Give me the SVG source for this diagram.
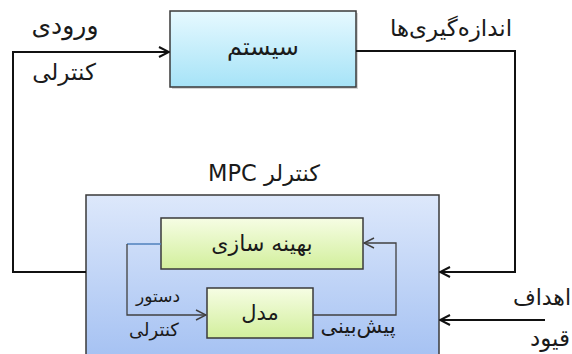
<svg xmlns="http://www.w3.org/2000/svg" width="572" height="354" viewBox="0 0 572 354">
<style>
text{font-family:"DejaVu Sans","Noto Sans",sans-serif;fill:#1a1a1a;text-anchor:middle;direction:rtl}
.box{stroke:#3a3a3a;stroke-width:1.5}
.wire{fill:none;stroke:#111;stroke-width:2}
.iw{fill:none;stroke:#404040;stroke-width:1.3}
</style>
<defs>
<linearGradient id="gSys" x1="0" y1="0" x2="0" y2="1"><stop offset="0" stop-color="#e6f9ff"/><stop offset="1" stop-color="#a6e3f7"/></linearGradient>
<linearGradient id="gMpc" x1="0" y1="0" x2="0" y2="1"><stop offset="0" stop-color="#dde8fb"/><stop offset="1" stop-color="#a3c0f2"/></linearGradient>
<linearGradient id="gIn" x1="0" y1="0" x2="0" y2="1"><stop offset="0" stop-color="#f6fde4"/><stop offset="1" stop-color="#d2ef9c"/></linearGradient>
<marker id="ah" viewBox="0 0 12 12" refX="11" refY="6" markerWidth="12" markerHeight="12" markerUnits="userSpaceOnUse" orient="auto"><path d="M1,1 L11,6 L1,11" fill="none" stroke="#111" stroke-width="2"/></marker>
<marker id="ahs" viewBox="0 0 12 12" refX="11" refY="6" markerWidth="12" markerHeight="12" markerUnits="userSpaceOnUse" orient="auto"><path d="M1,1 L11,6 L1,11" fill="none" stroke="#404040" stroke-width="1.4"/></marker>
</defs>
<g id="mpc">
<rect x="86" y="195" width="353" height="170" fill="url(#gMpc)" class="box"/>
<text x="264" y="181" style="font-size:22.5px">کنترلر MPC</text>
</g>
<g id="system">
<rect x="172" y="13" width="186" height="76" fill="#888" opacity="0.35"/>
<rect x="170" y="11" width="186" height="76" fill="url(#gSys)" class="box"/>
<text x="263" y="55" style="font-size:24px">سیستم</text>
</g>
<g id="optimizer">
<rect x="161" y="218" width="202" height="51" fill="url(#gIn)" class="box"/>
<text x="262" y="251" style="font-size:22px">بهینه سازی</text>
</g>
<g id="model">
<rect x="207" y="288" width="106" height="50" fill="url(#gIn)" class="box"/>
<text x="260" y="320" style="font-size:21px">مدل</text>
</g>
<g id="connectors">
<path class="wire" d="M86,272 H13 V52 H169" marker-end="url(#ah)"/>
<path class="wire" d="M356,51 H515 V272 H440" marker-end="url(#ah)"/>
<path class="wire" d="M545,320 H440" marker-end="url(#ah)"/>
<path d="M161,244 H127" fill="none" stroke="#4f81bd" stroke-width="1.3"/>
<path class="iw" d="M127,244 V315 H206" marker-end="url(#ahs)"/>
<path class="iw" d="M313,315 H396 V243 H364" marker-end="url(#ahs)"/>
</g>
<g id="labels">
<text x="65" y="34" style="font-size:25px">ورودی</text>
<text x="64" y="80" style="font-size:23px">کنترلی</text>
<text x="451" y="36" style="font-size:23px">اندازه‌گیری‌ها</text>
<text x="158" y="302" style="font-size:17px">دستور</text>
<text x="154" y="336" style="font-size:18px">کنترلی</text>
<text x="358" y="333" style="font-size:21px">پیش‌بینی</text>
<text x="542" y="305" style="font-size:22px">اهداف</text>
<text x="550" y="346" style="font-size:23px">قیود</text>
</g>
</svg>
